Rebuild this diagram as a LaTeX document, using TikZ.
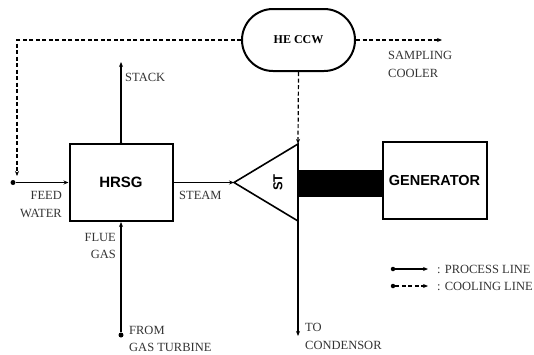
\documentclass[tikz,border=0pt]{standalone}
\usepackage{fontspec}
\setmainfont{Liberation Serif}
\setsansfont{Liberation Sans}
\usetikzlibrary{arrows.meta,shapes.misc}
\begin{document}
\begin{tikzpicture}[x=1pt,y=-1pt,
  box/.style={draw, line width=2pt, inner sep=0pt},
  lbl/.style={font=\rmfamily\fontsize{12.5}{13}\selectfont, inner sep=0pt, text=black!80},
  proc/.style={line width=1.1pt, -{Stealth[length=5pt,width=4pt]}},
  cool/.style={line width=1.2pt, -{Stealth[length=5pt,width=4pt]}, dash pattern=on 4pt off 2.5pt},
  dotnode/.style={circle, fill, inner sep=0pt, minimum size=5pt}]
\useasboundingbox (0,0) rectangle (534,354);
% main blocks
\node[box, minimum width=103pt, minimum height=77pt] (hrsg) at (121,182.5)
  {\sffamily\bfseries\fontsize{15}{16}\selectfont HRSG};
\node[box, minimum width=104pt, minimum height=77pt] (gen) at (434.5,180.5)
  {\sffamily\bfseries\fontsize{14.5}{16}\selectfont GENERATOR};
\node[box, rounded rectangle, minimum width=113pt, minimum height=62pt] (heccw) at (298.5,40)
  {\rmfamily\bfseries\fontsize{12}{13}\selectfont HE CCW};
\node[fill, minimum width=84pt, minimum height=27pt, inner sep=0pt] (shaft) at (340,183.5) {};
% steam turbine
\coordinate (stapex) at (234,182.5);
\coordinate (sttop) at (298,144);
\coordinate (stbot) at (298,221);
\draw[line width=1.6pt, line join=miter] (stapex) -- (sttop) -- (stbot) -- cycle;
\node[rotate=90, inner sep=0pt] (st) at (278,182.5)
  {\sffamily\bfseries\fontsize{13}{14}\selectfont ST};
% free ends
\coordinate (stack) at (121,62);
\coordinate (coolend) at (17,176);
\coordinate (samp) at (442,40);
\coordinate (cond) at (298,336);
\node[dotnode] (fwdot) at (13,182.5) {};
\node[dotnode] (fgdot) at (121,335) {};
\node[dotnode, minimum size=3pt] (stackdot) at (hrsg.north) {};
% process lines
\draw[proc] (fwdot) -- (hrsg.west);
\draw[proc] (hrsg.north) -- (stack);
\draw[proc] (hrsg.east) -- (stapex);
\draw[proc] (fgdot) -- (hrsg.south);
\draw[proc] (stbot) -- (cond);
% cooling lines
\draw[cool] (heccw.west) -| (coolend);
\draw[cool] (heccw.east) -- (samp);
\draw[cool] (heccw.south) -- (sttop);
% labels
\node[lbl, anchor=west] (lstack) at (125,77) {STACK};
\node[lbl, anchor=west] (lsamp1) at (388,55) {SAMPLING};
\node[lbl, anchor=west] (lsamp2) at (388,73) {COOLER};
\node[lbl, anchor=east] (lfeed1) at (62,195) {FEED};
\node[lbl, anchor=east] (lfeed2) at (62,213) {WATER};
\node[lbl, anchor=west] (lsteam) at (179,195) {STEAM};
\node[lbl, anchor=east] (lflue1) at (116,237) {FLUE};
\node[lbl, anchor=east] (lflue2) at (116,254) {GAS};
\node[lbl, anchor=west] (lfrom1) at (129,330) {FROM};
\node[lbl, anchor=west] (lfrom2) at (129,347) {GAS TURBINE};
\node[lbl, anchor=west] (lto1) at (305,327) {TO};
\node[lbl, anchor=west] (lto2) at (305,345) {CONDENSOR};
% legend
\node[dotnode, minimum size=4.5pt] (lgd1) at (393,269) {};
\coordinate (lge1) at (428,269);
\draw[proc] (lgd1) -- (lge1);
\node[lbl, anchor=west] (lgt1) at (437,269) {: PROCESS LINE};
\node[dotnode, minimum size=4.5pt] (lgd2) at (393,286) {};
\coordinate (lge2) at (428,286);
\draw[cool] (lgd2) -- (lge2);
\node[lbl, anchor=west] (lgt2) at (437,286) {: COOLING LINE};
\end{tikzpicture}
\end{document}
